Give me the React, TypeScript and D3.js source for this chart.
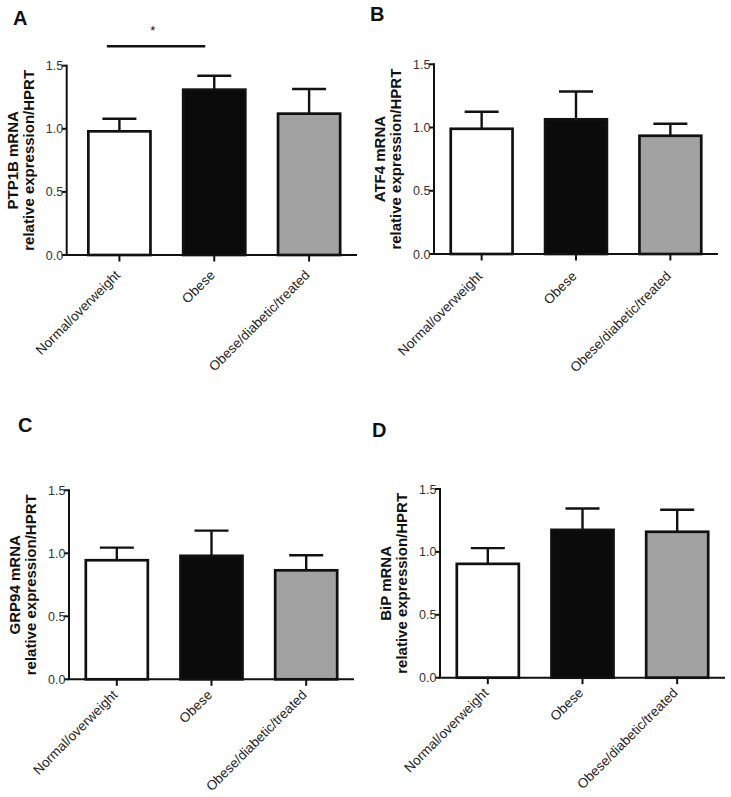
import React from "react";
import * as d3 from "d3";

const categories = ["Normal/overweight", "Obese", "Obese/diabetic/treated"];
const yTickValues = [0, 0.5, 1.0, 1.5];

const ptp1bMean = [0.98, 1.31, 1.12];
const ptp1bErr = [0.1, 0.11, 0.195];
const atf4Mean = [0.99, 1.065, 0.935];
const atf4Err = [0.135, 0.22, 0.095];
const grp94Mean = [0.945, 0.98, 0.865];
const grp94Err = [0.1, 0.2, 0.12];
const bipMean = [0.905, 1.175, 1.16];
const bipErr = [0.125, 0.17, 0.175];

const panelLetters = ["A", "B", "C", "D"];
const geneLabels = ["PTP1B mRNA", "ATF4 mRNA", "GRP94 mRNA", "BiP mRNA"];
const yLabel2 = "relative expression/HPRT";
const significance = ["*", "", "", ""];

const barFills = ["#ffffff", "#0b0b0c", "#a2a2a3"];

// layout (pixels), per panel
const layouts = [
  { axisX: 66.7, start: 71.5, end: 357, yTop: 65.7, yBot: 255, lx: 13, ly: 25, catDy: 21 },
  { axisX: 434, start: 434, end: 718, yTop: 64.3, yBot: 254, lx: 370, ly: 21, catDy: 23 },
  { axisX: 69, start: 69, end: 354, yTop: 490.3, yBot: 679.3, lx: 18, ly: 432, catDy: 16.5 },
  { axisX: 440, start: 440, end: 725, yTop: 489, yBot: 677.7, lx: 372, ly: 437, catDy: 16 },
];

const means = [ptp1bMean, atf4Mean, grp94Mean, bipMean];
const errs = [ptp1bErr, atf4Err, grp94Err, bipErr];

const FONT = "'Liberation Sans', Arial, Helvetica, sans-serif";

function Panel({ idx }: { idx: number }) {
  const L = layouts[idx];
  const y = d3.scaleLinear().domain([0, 1.5]).range([L.yBot, L.yTop]);
  const x = d3.scalePoint<string>().domain(categories).range([L.start, L.end]).padding(0.505);
  const step = x.step();
  const barW = step * 0.655;
  const capHalf = 17;
  const sw = 2.7;
  const m = means[idx];
  const e = errs[idx];
  const midY = (L.yTop + L.yBot) / 2;
  return (
    <g>
      <text x={L.lx} y={L.ly} fontFamily={FONT} fontWeight="bold" fontSize={20} fill="#111">
        {panelLetters[idx]}
      </text>
      <text
        transform={`translate(${L.axisX - 48.7},${midY}) rotate(-90)`}
        textAnchor="middle"
        fontFamily={FONT}
        fontWeight="bold"
        fontSize={15}
        fill="#111"
      >
        {geneLabels[idx]}
      </text>
      <text
        transform={`translate(${L.axisX - 32.7},${midY}) rotate(-90)`}
        textAnchor="middle"
        fontFamily={FONT}
        fontWeight="bold"
        fontSize={15}
        fill="#111"
      >
        {yLabel2}
      </text>
      {categories.map((c, i) => {
        const cx = x(c) as number;
        return (
          <g key={c}>
            <line x1={cx} x2={cx} y1={y(m[i])} y2={y(m[i] + e[i])} stroke="#111" strokeWidth={2.4} />
            <line
              x1={cx - capHalf}
              x2={cx + capHalf}
              y1={y(m[i] + e[i])}
              y2={y(m[i] + e[i])}
              stroke="#111"
              strokeWidth={2.4}
            />
            <rect
              x={cx - barW / 2}
              y={y(m[i])}
              width={barW}
              height={y(0) - y(m[i])}
              fill={barFills[i]}
              stroke="#111"
              strokeWidth={sw}
            />
          </g>
        );
      })}
      <line x1={L.axisX} x2={L.axisX} y1={L.yTop - 1} y2={L.yBot} stroke="#111" strokeWidth={2} />
      {yTickValues.map((t) => (
        <g key={t}>
          <line x1={L.axisX - 5} x2={L.axisX} y1={y(t)} y2={y(t)} stroke="#111" strokeWidth={2} />
          <text
            x={L.axisX - 3.5}
            y={y(t)}
            dy="0.36em"
            textAnchor="end"
            fontFamily={FONT}
            fontSize={12.5}
            fill="#333"
          >
            {d3.format(".1f")(t)}
          </text>
        </g>
      ))}
      <line x1={L.axisX - 1} x2={L.end} y1={L.yBot} y2={L.yBot} stroke="#111" strokeWidth={2} />
      {categories.map((c) => {
        const cx = x(c) as number;
        return (
          <g key={"t" + c}>
            <line x1={cx} x2={cx} y1={L.yBot} y2={L.yBot + 6.5} stroke="#111" strokeWidth={2} />
            <text
              transform={`translate(${cx + 1.5},${L.yBot + L.catDy}) rotate(-45)`}
              textAnchor="end"
              fontFamily={FONT}
              fontSize={13.5}
              fill="#222"
            >
              {c}
            </text>
          </g>
        );
      })}
      {significance[idx] && (
        <g>
          <line
            x1={(x(categories[0]) as number) - 12.5}
            x2={(x(categories[1]) as number) - 9}
            y1={46.3}
            y2={46.3}
            stroke="#111"
            strokeWidth={2.4}
          />
          <text
            x={((x(categories[0]) as number) + (x(categories[1]) as number)) / 2 - 14}
            y={35}
            textAnchor="middle"
            fontFamily={FONT}
            fontSize={13}
            fill="#111"
          >
            {significance[idx]}
          </text>
        </g>
      )}
    </g>
  );
}

export default function App() {
  return (
    <svg
      width={731}
      height={797}
      style={{ position: "absolute", left: 0, top: 0, background: "#fff" }}
    >
      <rect width={731} height={797} fill="#fff" />
      {[0, 1, 2, 3].map((i) => (
        <Panel key={i} idx={i} />
      ))}
    </svg>
  );
}
